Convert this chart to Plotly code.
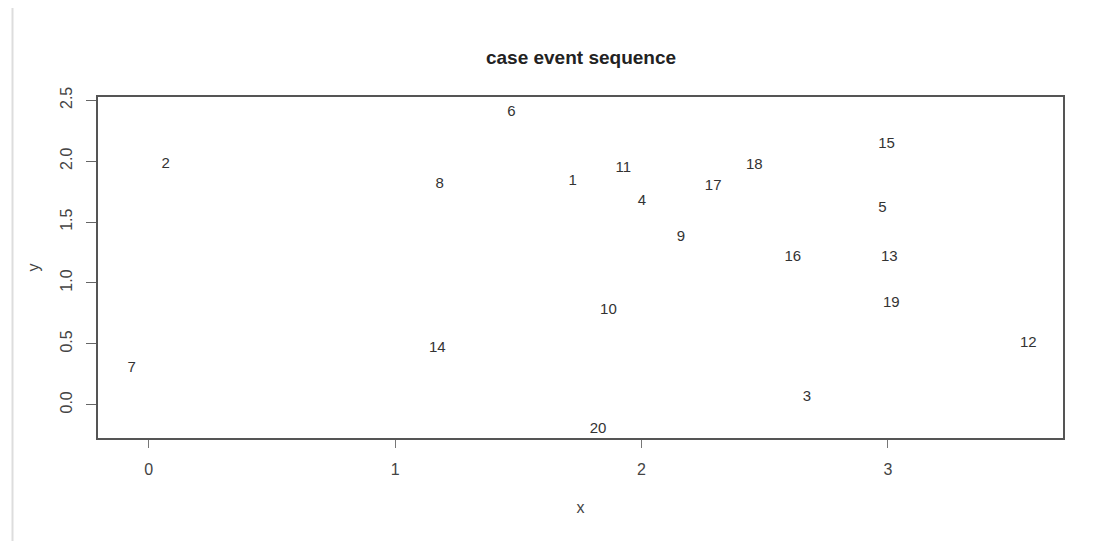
import plotly.graph_objects as go

labels = ["1", "2", "3", "4", "5", "6", "7", "8", "9", "10",
          "11", "12", "13", "14", "15", "16", "17", "18", "19", "20"]
x_vals = [1.721, 0.069, 2.672, 2.002, 2.978, 1.472, -0.069, 1.181, 2.160, 1.866,
          1.926, 3.570, 3.006, 1.171, 2.995, 2.614, 2.291, 2.458, 3.014, 1.824]
y_vals = [1.835, 1.977, 0.059, 1.675, 1.617, 2.403, 0.303, 1.813, 1.378, 0.774,
          1.938, 0.505, 1.215, 0.461, 2.135, 1.215, 1.797, 1.969, 0.836, -0.200]

x_ticks = [0, 1, 2, 3]
x_ticktext = ["0", "1", "2", "3"]
y_ticks = [0.0, 0.5, 1.0, 1.5, 2.0, 2.5]
y_ticktext = ["0.0", "0.5", "1.0", "1.5", "2.0", "2.5"]

font_family = "Liberation Sans, Arial, sans-serif"

fig = go.Figure()
fig.add_trace(go.Scatter(
    x=x_vals, y=y_vals, mode="text", text=labels,
    textposition="middle center",
    textfont=dict(family=font_family, size=15, color="#333333"),
    hoverinfo="skip", showlegend=False,
))

fig.update_layout(
    width=1093, height=541,
    margin=dict(l=98, r=30, t=97, b=103),
    paper_bgcolor="white", plot_bgcolor="white",
    title=dict(text="<b>case event sequence</b>", x=(581 - 98) / 965, xref="paper",
               xanchor="center", y=1 - 57 / 541, yanchor="middle",
               font=dict(family=font_family, size=19, color="#222222")),
    xaxis=dict(range=[-0.206, 3.711], tickvals=x_ticks, ticktext=x_ticktext,
               showgrid=False, zeroline=False, showline=True, linecolor="#555555",
               linewidth=2, mirror=True, ticks="outside", ticklen=8, tickwidth=1,
               tickcolor="#777777", ticklabelstandoff=8,
               tickfont=dict(family=font_family, size=16, color="#444444"),
               title=dict(text="x", standoff=25,
                          font=dict(family=font_family, size=16, color="#444444"))),
    yaxis=dict(range=[-0.273, 2.527], tickvals=y_ticks, ticktext=y_ticktext,
               showgrid=False, zeroline=False, showline=True, linecolor="#555555",
               linewidth=2, mirror=True, ticks="outside", ticklen=10, tickwidth=1,
               tickcolor="#666666", tickangle=-90, ticklabelstandoff=8,
               tickfont=dict(family=font_family, size=16, color="#444444"),
               title=dict(text="y", standoff=14,
                          font=dict(family=font_family, size=16, color="#444444"))),
)

# faint left frame edge of the screenshot
fig.add_shape(type="line", xref="paper", yref="paper",
              x0=(12.5 - 98) / 965, x1=(12.5 - 98) / 965,
              y0=-103 / 341, y1=(341 + 97 - 8) / 341,
              line=dict(color="#dddddd", width=2))

fig.write_html("out.html")
